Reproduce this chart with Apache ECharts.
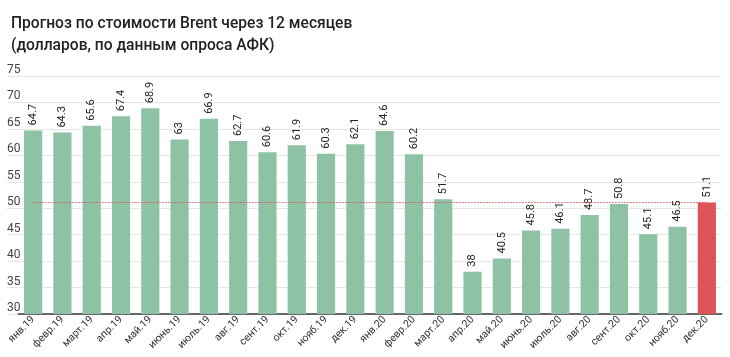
<!DOCTYPE html>
<html><head><meta charset="utf-8">
<script src="https://cdn.jsdelivr.net/npm/echarts@6/dist/echarts.min.js"></script>
<style>html,body{margin:0;padding:0;background:#fff}#c{width:730px;height:357px}</style>
</head><body><div id="c"></div>
<script>
const categories = ['янв.19','февр.19','март.19','апр.19','май.19','июнь.19','июль.19','авг.19','сент.19','окт.19','нояб.19','дек.19',
  'янв.20','февр.20','март.20','апр.20','май.20','июнь.20','июль.20','авг.20','сент.20','окт.20','нояб.20','дек.20'];
const values = [64.7,64.3,65.6,67.4,68.9,63,66.9,62.7,60.6,61.9,60.3,62.1,64.6,60.2,51.7,38,40.5,45.8,46.1,48.7,50.8,45.1,46.5,51.1];
const yTicks = [30,35,40,45,50,55,60,65,70,75];
const titleText = 'Прогноз по стоимости Brent через 12 месяцев\n(долларов, по данным опроса АФК)';

const GREEN = '#8dc2a5', RED = '#dc5456';
const lastIdx = values.length - 1;
const yMin = yTicks[0], yMax = yTicks[yTicks.length - 1], yStep = yTicks[1] - yTicks[0];
const font = 'Roboto, "Noto Sans", Arial, sans-serif';

const chart = echarts.init(document.getElementById('c'), null, {renderer: 'canvas'});
chart.setOption({
  animation: false,
  backgroundColor: '#fff',
  title: {
    text: titleText, left: 6, top: 8,
    textStyle: {fontFamily: font, fontSize: 15.6, fontWeight: 500, color: '#222', lineHeight: 22}
  },
  grid: [
    {left: 7, right: 9, top: 76, bottom: 43},
    {left: 18.5, right: 8.5, top: 76, bottom: 43}
  ],
  xAxis: [
    {gridIndex: 0, type: 'category', data: categories, show: false},
    {gridIndex: 1, type: 'category', data: categories,
      axisTick: {show: false},
      axisLine: {lineStyle: {color: '#666', width: 2}},
      axisLabel: {rotate: 45, interval: 0, margin: 4, fontFamily: font, fontSize: 10.5, color: '#333'}}
  ],
  yAxis: [
    {gridIndex: 0, type: 'value', min: yMin, max: yMax, interval: yStep,
      axisLine: {show: false}, axisTick: {show: false},
      splitLine: {lineStyle: {color: '#e6e6e6', width: 1}},
      axisLabel: {inside: true, margin: 0, align: 'left', verticalAlign: 'bottom', padding: [0,0,0,0],
        fontFamily: font, fontSize: 12, color: '#444'}},
    {gridIndex: 1, type: 'value', min: yMin, max: yMax, interval: yStep, show: false, splitLine: {show: false}}
  ],
  series: [{
    type: 'bar', xAxisIndex: 1, yAxisIndex: 1,
    data: values.map((v, i) => ({value: v, itemStyle: {color: i === lastIdx ? RED : GREEN}})),
    barCategoryGap: '38%',
    label: {show: true, position: 'top', rotate: 90, align: 'left', verticalAlign: 'middle', distance: 5,
      fontFamily: font, fontSize: 11, color: '#222'},
    markLine: {
      silent: true, symbol: 'none', z: 10,
      label: {show: false},
      lineStyle: {color: '#e8484b', type: [1.5, 1.5], width: 1, opacity: 0.9},
      data: [[{coord: [categories[0], values[lastIdx]]}, {coord: [categories[lastIdx], values[lastIdx]]}]]
    }
  }]
});
</script></body></html>
